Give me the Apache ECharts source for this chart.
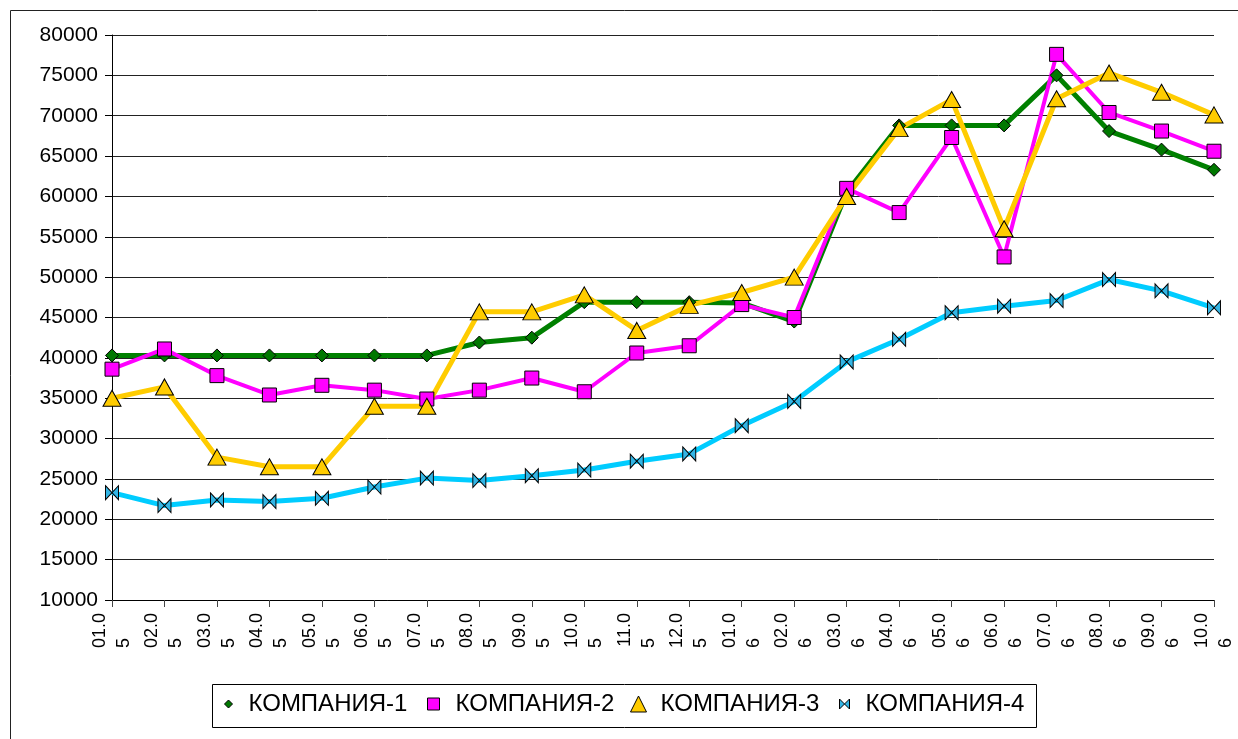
<!DOCTYPE html>
<html>
<head>
<meta charset="utf-8">
<script src="https://cdn.jsdelivr.net/npm/echarts@6/dist/echarts.min.js"></script>
<style>
html,body{margin:0;padding:0;background:#fff;}
#chart{width:1238px;height:739px;}
</style>
</head>
<body>
<div id="chart"></div>
<script>
const categories = ['01.05','02.05','03.05','04.05','05.05','06.05','07.05','08.05','09.05','10.05','11.05','12.05',
                    '01.06','02.06','03.06','04.06','05.06','06.06','07.06','08.06','09.06','10.06'];
const seriesNames = ['КОМПАНИЯ-1','КОМПАНИЯ-2','КОМПАНИЯ-3','КОМПАНИЯ-4'];
const company1 = [40300,40300,40300,40300,40300,40300,40300,41900,42500,46900,46900,46900,46800,44500,60500,68800,68800,68800,75000,68100,65800,63300];
const company2 = [38600,41100,37800,35400,36600,36000,34900,36000,37500,35800,40600,41500,46600,45000,61000,58000,67300,52500,77600,70400,68100,65600];
const company3 = [35000,36400,27700,26500,26500,34000,34000,45700,45700,47800,43400,46500,48100,50000,60000,68400,72000,56000,72100,75300,72900,70100];
const company4 = [23300,21700,22400,22200,22600,24000,25100,24800,25400,26100,27200,28100,31600,34600,39500,42300,45600,46400,47100,49700,48300,46200];
const yMin = 10000, yMax = 80000, yStep = 5000;

const FONT = 'Liberation Sans, Arial, sans-serif';
const bowtie = 'path://M0,0 L10,10 L10,0 L0,10 Z';

const chart = echarts.init(document.getElementById('chart'), null, {renderer: 'canvas'});

function mkLegend(name, icon, left, s, padLeft, fill) {
  return {
    show: true,
    data: [name],
    icon: icon,
    left: left, top: 692, padding: 0,
    itemWidth: s, itemHeight: s,
    symbolKeepAspect: true,
    selectedMode: false,
    itemStyle: {color: fill, borderColor: '#000', borderWidth: 1},
    textStyle: {fontFamily: FONT, fontSize: 24, color: '#000', lineHeight: 24, padding: [0, 0, 0, padLeft]}
  };
}

const option = {
  animation: false,
  backgroundColor: '#fff',
  graphic: [
    {type: 'rect', shape: {x: 10.5, y: 10.5, width: 1300, height: 800}, style: {fill: 'none', stroke: '#222', lineWidth: 1}, silent: true, z: -1},
    {type: 'rect', shape: {x: 212.5, y: 684.5, width: 824, height: 43}, style: {fill: 'none', stroke: '#000', lineWidth: 1}, silent: true}
  ],
  grid: {left: 112, right: 24, top: 35, bottom: 139, containLabel: false},
  legend: [
    mkLegend(seriesNames[0], 'diamond', 224, 8, 11, '#007800'),
    mkLegend(seriesNames[1], 'rect', 427, 12, 11, '#FF00FF'),
    mkLegend(seriesNames[2], 'triangle', 630, 16, 9, '#FFCC00'),
    mkLegend(seriesNames[3], bowtie, 839, 10, 11, '#33B5E5')
  ],
  xAxis: {
    type: 'category',
    data: categories,
    boundaryGap: false,
    axisLine: {show: true, lineStyle: {color: '#000', width: 1}},
    axisTick: {show: true, length: 7, lineStyle: {color: '#444'}},
    axisLabel: {
      interval: 0, rotate: 90, margin: 13,
      fontFamily: FONT, fontSize: 18, color: '#000', lineHeight: 24,
      formatter: function (v) { return v.slice(0, 4) + '\n' + v.slice(4) + '     '; }
    },
    splitLine: {show: false}
  },
  yAxis: {
    type: 'value',
    min: yMin, max: yMax, interval: yStep,
    axisLine: {show: true, lineStyle: {color: '#000', width: 1}},
    axisTick: {show: true, length: 7, lineStyle: {color: '#000'}},
    axisLabel: {margin: 14, fontFamily: FONT, fontSize: 21, color: '#000',
      formatter: function (v) { return String(v); }},
    splitLine: {show: true, lineStyle: {color: '#222', width: 1}}
  },
  series: [
    {name: seriesNames[0], type: 'line', data: company1, symbol: 'diamond', symbolSize: 13,
     lineStyle: {color: '#008000', width: 5}, itemStyle: {color: '#007800', borderColor: '#000', borderWidth: 1}},
    {name: seriesNames[1], type: 'line', data: company2, symbol: 'rect', symbolSize: 14,
     lineStyle: {color: '#FF00FF', width: 4}, itemStyle: {color: '#FF00FF', borderColor: '#000', borderWidth: 1}},
    {name: seriesNames[2], type: 'line', data: company3, symbol: 'triangle', symbolSize: [18, 16],
     lineStyle: {color: '#FFCC00', width: 5}, itemStyle: {color: '#FFCC00', borderColor: '#000', borderWidth: 1}},
    {name: seriesNames[3], type: 'line', data: company4, symbol: bowtie, symbolSize: [13, 14],
     lineStyle: {color: '#00CCFF', width: 5}, itemStyle: {color: '#33B5E5', borderColor: '#000', borderWidth: 1}}
  ]
};
chart.setOption(option);
</script>
</body>
</html>
